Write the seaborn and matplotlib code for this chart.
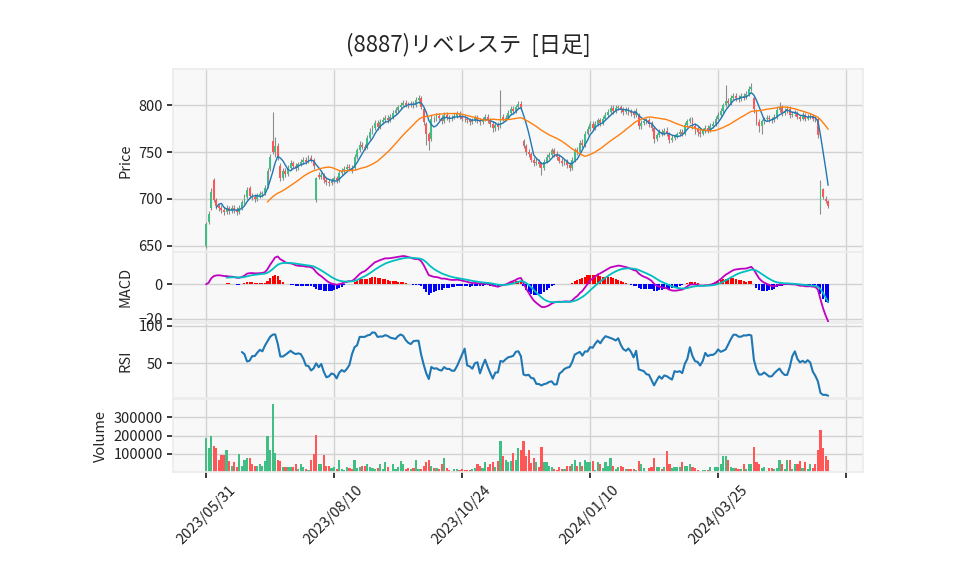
import numpy as np
import pandas as pd
import matplotlib
matplotlib.use('Agg')
import matplotlib.pyplot as plt
import seaborn as sns

# chart text
title = '(8887)リベレステ  [日足]'
tick_pos = [0, 50, 100, 150, 200, 250]
tick_labels = ['2023/05/31', '2023/08/10', '2023/10/24', '2024/01/10', '2024/03/25', '']

# daily prices (one value per trading day)
opens = [
    650, 675, 690, 720, 699, 692, 690, 688, 686, 690, 687, 690, 688, 686, 690, 697, 702, 712, 703, 702,
    700, 703, 705, 706, 714, 732, 762, 750, 757, 735, 722, 730, 727, 733, 738, 735, 733, 737, 740, 742,
    740, 744, 742, 699, 726, 724, 726, 720, 718, 717, 719, 722, 720, 728, 730, 732, 734, 733, 733, 745,
    752, 758, 756, 755, 765, 772, 776, 781, 777, 782, 784, 787, 784, 788, 792, 795, 798, 801, 803, 801,
    800, 802, 800, 806, 808, 796, 780, 770, 764, 786, 785, 789, 787, 783, 790, 787, 785, 787, 789, 791,
    788, 786, 785, 784, 782, 784, 787, 784, 782, 785, 788, 784, 780, 776, 779, 778, 788, 786, 787, 792,
    796, 794, 798, 802, 762, 757, 750, 748, 742, 738, 740, 738, 733, 740, 745, 747, 752, 748, 745, 741,
    738, 740, 736, 733, 742, 752, 750, 760, 758, 770, 775, 780, 776, 780, 784, 781, 786, 790, 793, 797,
    794, 797, 798, 795, 793, 795, 793, 792, 790, 790, 778, 781, 783, 784, 780, 776, 764, 768, 772, 770,
    773, 770, 763, 765, 767, 769, 772, 770, 779, 783, 785, 778, 775, 772, 770, 773, 776, 774, 778, 780,
    786, 790, 794, 800, 805, 803, 808, 810, 808, 807, 810, 809, 812, 818, 808, 794, 782, 778, 783, 785,
    787, 785, 784, 788, 795, 798, 792, 794, 796, 790, 791, 792, 788, 786, 790, 786, 788, 789, 786, 785,
    691, 711, 700, 698,
]
highs = [
    675, 687, 712, 722, 701, 695, 693, 691, 693, 692, 693, 693, 691, 693, 699, 705, 713, 714, 706, 705,
    706, 708, 709, 715, 733, 748, 793, 766, 760, 738, 733, 733, 736, 742, 741, 738, 740, 743, 745, 745,
    747, 747, 744, 724, 729, 729, 728, 723, 721, 722, 725, 725, 731, 733, 735, 737, 737, 736, 748, 755,
    762, 761, 759, 768, 776, 779, 784, 784, 785, 788, 790, 790, 791, 795, 798, 801, 804, 806, 806, 804,
    805, 805, 809, 811, 810, 798, 782, 772, 790, 789, 792, 792, 790, 793, 793, 790, 790, 792, 794, 794,
    791, 789, 788, 787, 787, 790, 790, 787, 788, 791, 791, 787, 783, 782, 782, 817, 791, 790, 795, 799,
    799, 801, 805, 805, 764, 759, 753, 750, 745, 744, 743, 740, 743, 748, 750, 755, 755, 751, 748, 744,
    743, 743, 739, 745, 755, 756, 763, 764, 773, 778, 783, 783, 783, 787, 787, 789, 793, 796, 800, 800,
    800, 801, 801, 798, 798, 798, 796, 795, 797, 792, 784, 786, 787, 787, 783, 778, 771, 775, 775, 776,
    777, 772, 768, 770, 772, 775, 775, 782, 786, 788, 788, 781, 778, 775, 776, 779, 779, 781, 783, 789,
    793, 797, 803, 822, 808, 811, 813, 813, 811, 813, 813, 815, 821, 824, 810, 796, 785, 786, 788, 790,
    790, 788, 791, 798, 804, 800, 797, 799, 799, 794, 795, 794, 790, 793, 792, 791, 792, 791, 789, 788,
    720, 712, 703, 699,
]
lows = [
    648, 673, 688, 697, 689, 687, 685, 683, 684, 684, 685, 685, 683, 684, 688, 695, 700, 701, 699, 697,
    698, 701, 702, 704, 712, 730, 748, 745, 742, 719, 720, 724, 725, 731, 732, 730, 731, 735, 737, 737,
    738, 739, 732, 697, 721, 721, 717, 715, 714, 715, 717, 717, 718, 726, 728, 730, 730, 728, 731, 743,
    750, 753, 752, 753, 763, 770, 774, 774, 775, 780, 782, 781, 782, 786, 790, 793, 796, 799, 798, 797,
    798, 797, 798, 803, 796, 779, 758, 752, 762, 782, 783, 784, 780, 781, 784, 782, 783, 785, 787, 785,
    783, 782, 781, 779, 780, 782, 781, 779, 780, 783, 781, 777, 772, 773, 774, 776, 783, 783, 785, 790,
    791, 792, 796, 795, 754, 747, 745, 739, 735, 736, 734, 726, 731, 738, 743, 745, 745, 742, 738, 735,
    736, 733, 730, 731, 740, 747, 748, 755, 756, 768, 773, 773, 774, 778, 778, 779, 784, 788, 791, 791,
    792, 795, 792, 790, 791, 790, 789, 787, 788, 775, 775, 779, 780, 777, 773, 760, 762, 766, 767, 768,
    767, 760, 761, 763, 765, 767, 767, 768, 777, 781, 775, 770, 767, 766, 768, 771, 771, 772, 776, 778,
    784, 788, 792, 798, 800, 801, 806, 805, 804, 805, 806, 807, 810, 816, 792, 779, 772, 770, 780, 783,
    782, 781, 782, 786, 793, 789, 790, 792, 787, 788, 789, 785, 783, 784, 783, 784, 786, 783, 782, 765,
    684, 700, 696, 690,
]
closes = [
    673, 684, 707, 699, 692, 690, 688, 686, 690, 687, 690, 688, 686, 690, 697, 702, 710, 703, 702, 700,
    703, 705, 706, 712, 730, 745, 750, 757, 745, 722, 730, 727, 733, 738, 735, 733, 737, 740, 742, 740,
    744, 742, 735, 722, 724, 726, 720, 718, 717, 719, 722, 720, 728, 730, 732, 734, 733, 731, 745, 752,
    758, 756, 755, 765, 772, 776, 781, 777, 782, 784, 787, 784, 788, 792, 795, 798, 801, 803, 801, 800,
    802, 800, 806, 808, 798, 782, 770, 762, 786, 785, 789, 787, 783, 790, 787, 785, 787, 789, 791, 788,
    786, 785, 784, 782, 784, 787, 784, 782, 785, 788, 784, 780, 776, 779, 777, 788, 786, 787, 792, 796,
    794, 798, 802, 798, 757, 750, 748, 742, 738, 740, 737, 733, 740, 745, 747, 752, 748, 745, 741, 738,
    740, 736, 733, 742, 752, 750, 760, 758, 770, 775, 780, 776, 780, 784, 781, 786, 790, 793, 797, 794,
    797, 798, 795, 793, 795, 793, 792, 790, 794, 778, 781, 783, 784, 780, 776, 764, 768, 772, 770, 773,
    770, 763, 765, 767, 769, 772, 770, 779, 783, 785, 778, 775, 772, 770, 773, 776, 774, 778, 780, 786,
    790, 794, 800, 805, 803, 808, 810, 808, 807, 810, 809, 812, 818, 820, 796, 782, 778, 783, 785, 787,
    785, 784, 788, 795, 798, 792, 794, 796, 790, 791, 792, 788, 786, 790, 786, 788, 789, 786, 785, 768,
    713, 702, 698, 692,
]
volumes = [
    185000, 135000, 198000, 143000, 130000, 65000, 93000, 93000, 124000, 59000,
    37000, 54000, 31000, 98000, 37000, 65000, 76000, 76000, 43000, 37000,
    37000, 43000, 37000, 59000, 198000, 120000, 370000, 105000, 65000, 59000,
    28000, 31000, 31000, 31000, 31000, 46000, 18000, 43000, 31000, 18000,
    13000, 68000, 98000, 204000, 43000, 43000, 93000, 37000, 37000, 24000,
    31000, 20000, 68000, 18000, 13000, 31000, 24000, 18000, 65000, 24000,
    31000, 35000, 35000, 43000, 31000, 24000, 18000, 24000, 43000, 18000,
    54000, 31000, 9000, 46000, 18000, 31000, 59000, 46000, 20000, 24000,
    18000, 24000, 65000, 18000, 18000, 35000, 54000, 65000, 35000, 24000,
    24000, 20000, 46000, 76000, 24000, 13000, 9000, 18000, 18000, 13000,
    20000, 13000, 13000, 13000, 20000, 24000, 46000, 35000, 24000, 54000,
    31000, 46000, 54000, 31000, 59000, 172000, 87000, 65000, 54000, 59000,
    105000, 68000, 130000, 124000, 170000, 87000, 124000, 50000, 80000, 54000,
    28000, 137000, 57000, 54000, 35000, 31000, 18000, 13000, 31000, 18000,
    18000, 35000, 35000, 43000, 68000, 37000, 54000, 35000, 68000, 54000,
    54000, 63000, 13000, 54000, 43000, 24000, 54000, 35000, 80000, 35000,
    18000, 31000, 35000, 31000, 18000, 18000, 18000, 18000, 13000, 63000,
    43000, 24000, 9000, 24000, 28000, 80000, 31000, 31000, 18000, 31000,
    115000, 43000, 24000, 31000, 31000, 31000, 54000, 35000, 37000, 43000,
    31000, 24000, 13000, 9000, 13000, 13000, 13000, 31000, 9000, 31000,
    31000, 46000, 87000, 87000, 65000, 31000, 24000, 24000, 18000, 18000,
    46000, 20000, 46000, 46000, 137000, 54000, 46000, 24000, 31000, 9000,
    24000, 24000, 18000, 24000, 68000, 43000, 20000, 65000, 65000, 20000,
    46000, 43000, 59000, 24000, 54000, 20000, 46000, 24000, 46000, 120000,
    231000, 130000, 87000, 68000,
]

up_color = '#41be84'
down_color = '#ff5757'

df = pd.DataFrame({'Open': opens, 'High': highs, 'Low': lows,
                   'Close': closes, 'Volume': volumes})
df['i'] = np.arange(len(df))

# indicators
df['MA5'] = df['Close'].rolling(5).mean()
df['MA25'] = df['Close'].rolling(25).mean()
ema12 = df['Close'].ewm(span=12, adjust=False).mean()
ema26 = df['Close'].ewm(span=26, adjust=False).mean()
df['MACD'] = ema12 - ema26
df['Signal'] = df['MACD'].ewm(span=9, adjust=False, min_periods=9).mean()
df['Hist'] = df['MACD'] - df['Signal']
delta = df['Close'].diff()
gain = delta.clip(lower=0).rolling(14).mean()
loss = (-delta.clip(upper=0)).rolling(14).mean()
df['RSI'] = 100 * gain / (gain + loss)

sns.set_theme(style='whitegrid', rc={
    'axes.facecolor': '#f8f8f8',
    'axes.edgecolor': '#ececec',
    'grid.color': '#d2d2d2',
    'grid.linewidth': 1.0,
    'xtick.bottom': True,
    'ytick.left': True,
    'xtick.major.size': 4,
    'ytick.major.size': 4,
    'xtick.color': '#222222',
    'ytick.color': '#222222',
    'xtick.labelsize': 10.5,
    'ytick.labelsize': 10.5,
    'axes.labelsize': 10.5,
})
plt.rcParams['font.family'] = ['Noto Sans CJK JP', 'DejaVu Sans']

fig = plt.figure(figsize=(9.58, 5.75), dpi=100)
left, width = 0.1809, 0.7199
ax1 = fig.add_axes([left, 0.5623, width, 0.3177])
ax2 = fig.add_axes([left, 0.4395, width, 0.1217], sharex=ax1)
ax3 = fig.add_axes([left, 0.3073, width, 0.1304], sharex=ax1)
ax4 = fig.add_axes([left, 0.1786, width, 0.1275], sharex=ax1)

# candles
candle_up = df['Close'] >= df['Open']
body_bottom = np.minimum(df['Open'], df['Close'])
body_height = np.maximum((df['Close'] - df['Open']).abs(), 0.6)
ax1.vlines(df['i'], df['Low'], df['High'], color='#8c8c8c', linewidth=0.8, zorder=2)
ax1.bar(df['i'], body_height, bottom=body_bottom, width=0.75, linewidth=0,
        color=np.where(candle_up, up_color, down_color), zorder=3)
sns.lineplot(data=df, x='i', y='MA5', ax=ax1, color='#1f77b4', linewidth=1.0, zorder=4)
sns.lineplot(data=df, x='i', y='MA25', ax=ax1, color='#ff7f0e', linewidth=1.0, zorder=4)
ax1.set_ylim(643.6, 839)
ax1.set_yticks([650, 700, 750, 800])
ax1.set_ylabel('Price')

# MACD
hist_colors = np.where(df['Hist'] >= 0, '#ff0000', '#0000ff')
ax2.bar(df['i'], df['Hist'].fillna(0), width=0.8, linewidth=0, color=hist_colors, zorder=2)
sns.lineplot(data=df, x='i', y='MACD', ax=ax2, color='#c000c0', linewidth=1.3, zorder=3)
sns.lineplot(data=df, x='i', y='Signal', ax=ax2, color='#00bfbf', linewidth=1.3, zorder=3)
ax2.set_ylim(-21.9, 18.4)
ax2.set_yticks([-20, 0])
ax2.set_ylabel('MACD')

# RSI
sns.lineplot(data=df, x='i', y='RSI', ax=ax3, color='#1f77b4', linewidth=1.5)
ax3.set_ylim(3.5, 103.2)
ax3.set_yticks([50, 100])
ax3.set_ylabel('RSI')

# Volume (colour by change from previous close)
vol_up = df['Close'].diff().fillna(1) >= 0
ax4.bar(df['i'], df['Volume'], width=0.85, linewidth=0,
        color=np.where(vol_up, up_color, down_color), zorder=2)
ax4.set_ylim(0, 400000)
ax4.set_yticks([100000, 200000, 300000])
ax4.set_ylabel('Volume')

for ax in (ax1, ax2, ax3, ax4):
    ax.set_xlim(-12.8, 256.6)
    ax.set_xticks(tick_pos)
    ax.set_xlabel('')
    ax.grid(True)
    ax.set_axisbelow(True)
for ax in (ax1, ax2, ax3):
    ax.tick_params(axis='x', labelbottom=False, length=0)
ax4.set_xticks(tick_pos)
ax4.set_xticklabels(tick_labels, rotation=45, ha='center')

fig.text(0.4885, 0.922, title, ha='center', va='center', fontsize=16)

fig.savefig('out.png', dpi=100)
